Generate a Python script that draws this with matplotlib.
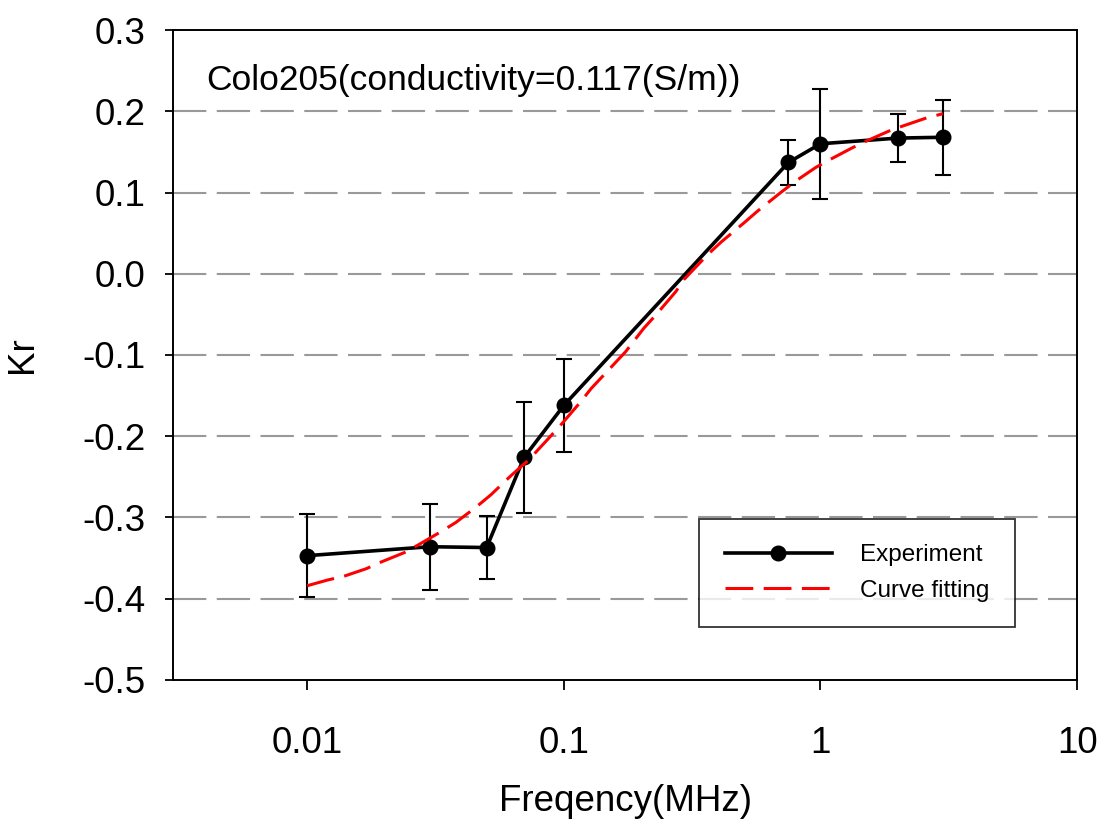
import matplotlib
matplotlib.use('Agg')
import matplotlib.pyplot as plt
import numpy as np

plt.rcParams['font.family'] = ['Liberation Sans', 'DejaVu Sans']
plt.rcParams['lines.scale_dashes'] = False

# measured points
freq = [0.01, 0.03, 0.05, 0.07, 0.1, 0.75, 1.0, 2.0, 3.0]
kr = [-0.347, -0.336, -0.337, -0.226, -0.162, 0.137, 0.160, 0.167, 0.168]
kr_err = [0.051, 0.053, 0.039, 0.068, 0.057, 0.028, 0.068, 0.030, 0.046]

# fitted curve
fit_freq = [0.010, 0.012, 0.014, 0.017, 0.019, 0.024, 0.027, 0.033, 0.038,
            0.046, 0.052, 0.062, 0.073, 0.087, 0.098, 0.116, 0.128, 0.156,
            0.174, 0.205, 0.228, 0.273, 0.294, 0.362, 0.410, 0.505, 0.568,
            0.700, 0.800, 0.960, 1.080, 1.330, 1.500, 1.860, 2.100, 2.600,
            3.000]
fit_kr = [-0.384, -0.377, -0.372, -0.363, -0.356, -0.343, -0.334, -0.318,
          -0.306, -0.286, -0.272, -0.249, -0.229, -0.203, -0.185, -0.158,
          -0.141, -0.112, -0.096, -0.067, -0.051, -0.022, -0.007, 0.023,
          0.039, 0.063, 0.077, 0.100, 0.114, 0.131, 0.140, 0.155, 0.163,
          0.176, 0.182, 0.192, 0.197]

yticks = [-0.5, -0.4, -0.3, -0.2, -0.1, 0.0, 0.1, 0.2, 0.3]
ytick_labels = ['-0.5', '-0.4', '-0.3', '-0.2', '-0.1', '0.0', '0.1', '0.2', '0.3']
xticks = [0.01, 0.1, 1, 10]
xtick_labels = ['0.01', '0.1', '1', '10']

fig = plt.figure(figsize=(11.07, 8.25), dpi=100)
ax = fig.add_axes([0.1563, 0.1758, 0.8167, 0.7878])

# grid lines (only inside, not at the frame)
for yv in yticks[1:-1]:
    ax.axhline(yv, color='#999999', lw=1.5, linestyle=(0, (24, 7.5)), zorder=1)

ax.errorbar(freq, kr, yerr=kr_err, fmt='none', ecolor='black', elinewidth=1.5,
            capsize=5.8, capthick=1.5, zorder=3)
ax.plot(freq, kr, color='black', lw=2.6, marker='o', markersize=10.5,
        label='Experiment', zorder=4)
ax.plot(fit_freq, fit_kr, color='red', lw=2.2, linestyle=(0, (20, 7.5)),
        label='Curve fitting', zorder=5)

ax.set_xscale('log')
ax.set_xlim(0.003, 10)
ax.set_ylim(-0.5, 0.3)
ax.set_xticks(xticks)
ax.set_xticklabels(xtick_labels)
ax.xaxis.set_minor_locator(matplotlib.ticker.NullLocator())
ax.set_yticks(yticks)
ax.set_yticklabels(ytick_labels)

ax.tick_params(axis='both', direction='out', labelsize=26.5, width=1.3, color='black')
ax.tick_params(axis='x', length=7, pad=26)
ax.tick_params(axis='y', length=6, pad=14)
for s in ax.spines.values():
    s.set_linewidth(1.4)
    s.set_color('black')

ax.set_xlabel('Freqency(MHz)', fontsize=26.5, labelpad=17)
ax.set_ylabel('Kr', fontsize=26.5, labelpad=30)

ax.text(0.037, 0.922, 'Colo205(conductivity=0.117(S/m))', transform=ax.transAxes,
        fontsize=25.5, va='center', ha='left')

leg = ax.legend(loc='upper left', bbox_to_anchor=(0.582, 0.248), fontsize=17.5,
                frameon=True, fancybox=False, handlelength=4.4,
                handletextpad=1.15, borderpad=1.05, labelspacing=0.55,
                borderaxespad=0)
leg.get_frame().set_edgecolor('black')
leg.get_frame().set_linewidth(1.3)

fig.savefig('out.png', dpi=100)
